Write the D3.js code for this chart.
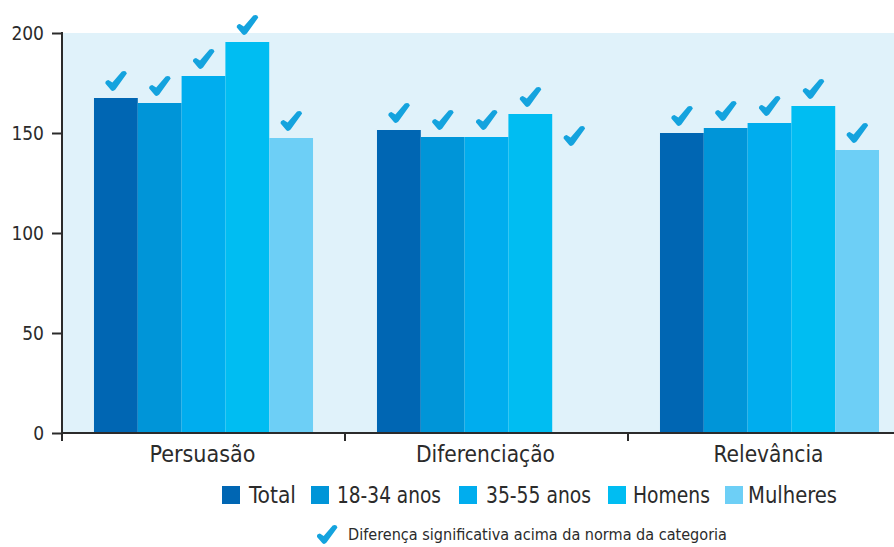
<!DOCTYPE html>
<html>
<head>
<meta charset="utf-8">
<script src="https://cdn.jsdelivr.net/npm/d3@7"></script>
<style>
  html, body { margin: 0; padding: 0; background: #ffffff; }
  svg { display: block; }
  text { font-family: "Liberation Sans Narrow", "DejaVu Sans Condensed", "Liberation Sans", sans-serif; fill: #2b2b2b; }
</style>
</head>
<body>
<svg id="chart" width="894" height="547"></svg>
<script>
// Index scores by dimension and audience group
const categories = ["Persuasão", "Diferenciação", "Relevância"];
const series = ["Total", "18-34 anos", "35-55 anos", "Homens", "Mulheres"];
const total    = [167.5, 151.5, 150];
const age1834  = [165,   148,   152.5];
const age3555  = [178.5, 148,   155];
const homens   = [195.5, 159.5, 163.5];
const mulheres = [147.5, null,  141.5];
// Significance flag per bar (✔ above the norm), and the level used for a flag without a bar
const significant = [
  [true, true, true],
  [true, true, true],
  [true, true, true],
  [true, true, true],
  [true, true, true]
];
const flagLevelNoBar = 140;
const yTicks = [0, 50, 100, 150, 200];
const legendNote = "Diferença significativa acima da norma da categoria";

const colors = ["#0066b3", "#0095d8", "#00adee", "#00bdf2", "#6dcff6"];
const checkColor = "#14a3de";
const values = [total, age1834, age3555, homens, mulheres];

const svg = d3.select("#chart");
const plot = { left: 62, top: 33, bottom: 433, right: 911 };

const x0 = d3.scaleBand().domain(categories).range([plot.left, plot.right]).padding(0);
const x1 = d3.scaleBand().domain(series).range([0, x0.bandwidth()]).paddingInner(0).paddingOuter(0.73);
const y = d3.scaleLinear().domain([0, 200]).range([plot.bottom, plot.top]);

// plot background
svg.append("rect")
  .attr("x", plot.left).attr("y", plot.top)
  .attr("width", plot.right - plot.left).attr("height", plot.bottom - plot.top)
  .attr("fill", "#e0f2fa");

// bars
const rows = [];
series.forEach((s, si) => categories.forEach((c, ci) => {
  rows.push({ s, si, c, ci, v: values[si][ci], sig: significant[si][ci] });
}));

svg.append("g").selectAll("rect")
  .data(rows.filter(d => d.v != null))
  .join("rect")
  .attr("x", d => x0(d.c) + x1(d.s))
  .attr("y", d => y(d.v))
  .attr("width", x1.bandwidth())
  .attr("height", d => y(0) - y(d.v))
  .attr("fill", d => colors[d.si]);

// heavy check mark glyph, about 22 x 20, anchored at its bottom centre
const checkPath = "M-10.5,-7.5 Q-11,-10.5 -7.5,-11 L-3.5,-8.5 L6,-19.5 Q10,-21 11,-17.5 L-0.5,-1.5 Q-3,1 -5,-1 Z";

svg.append("g").selectAll("path")
  .data(rows.filter(d => d.sig))
  .join("path")
  .attr("d", checkPath)
  .attr("fill", checkColor)
  .attr("transform", d => {
    const cx = x0(d.c) + x1(d.s) + x1.bandwidth() / 2;
    const top = y(d.v != null ? d.v : flagLevelNoBar) - 7;
    return `translate(${cx},${top})`;
  });

// y axis
const yAxis = d3.axisLeft(y).tickValues(yTicks).tickSize(10).tickPadding(8);
const gy = svg.append("g").attr("transform", `translate(${plot.left},0)`).call(yAxis);
gy.select(".domain").remove();
gy.selectAll(".tick line").attr("stroke", "#2b2b2b").attr("stroke-width", 2);
gy.selectAll(".tick text").style("font-size", "19px").attr("fill", "#2b2b2b").attr("dy", "0.36em");
gy.append("line").attr("x1", 0).attr("x2", 0).attr("y1", plot.top - 1).attr("y2", plot.bottom + 8)
  .attr("stroke", "#2b2b2b").attr("stroke-width", 2);

// x axis with ticks at the category boundaries
const gx = svg.append("g");
gx.append("line").attr("x1", plot.left).attr("x2", plot.right)
  .attr("y1", plot.bottom).attr("y2", plot.bottom)
  .attr("stroke", "#2b2b2b").attr("stroke-width", 2);
gx.selectAll(".bound")
  .data(categories.slice(1))
  .join("line")
  .attr("x1", d => x0(d)).attr("x2", d => x0(d))
  .attr("y1", plot.bottom).attr("y2", plot.bottom + 8)
  .attr("stroke", "#2b2b2b").attr("stroke-width", 2);
const catWidths = [106, 139, 110];
gx.selectAll(".cat")
  .data(categories)
  .join("text")
  .attr("x", d => x0(d) + x0.bandwidth() / 2 - 1)
  .attr("y", 462)
  .attr("text-anchor", "middle")
  .attr("textLength", (d, i) => catWidths[i])
  .attr("lengthAdjust", "spacingAndGlyphs")
  .style("font-size", "23px")
  .text(d => d);

// legend
const legendSquareX = [222, 311, 459, 608, 725];
const legendTextX = [249, 337, 486, 633, 748];
const legendTextW = [47, 104, 105, 77, 89];
const lg = svg.append("g");
series.forEach((s, i) => {
  lg.append("rect").attr("x", legendSquareX[i]).attr("y", 486).attr("width", 18).attr("height", 18).attr("fill", colors[i]);
  lg.append("text").attr("x", legendTextX[i]).attr("y", 503)
    .attr("textLength", legendTextW[i]).attr("lengthAdjust", "spacingAndGlyphs")
    .style("font-size", "23px").text(s);
});

// significance note
svg.append("path").attr("d", checkPath).attr("fill", checkColor)
  .attr("transform", "translate(327,544) scale(0.95)");
svg.append("text").attr("x", 348).attr("y", 540)
  .attr("textLength", 379).attr("lengthAdjust", "spacingAndGlyphs")
  .style("font-size", "16.5px").text(legendNote);
</script>
</body>
</html>
